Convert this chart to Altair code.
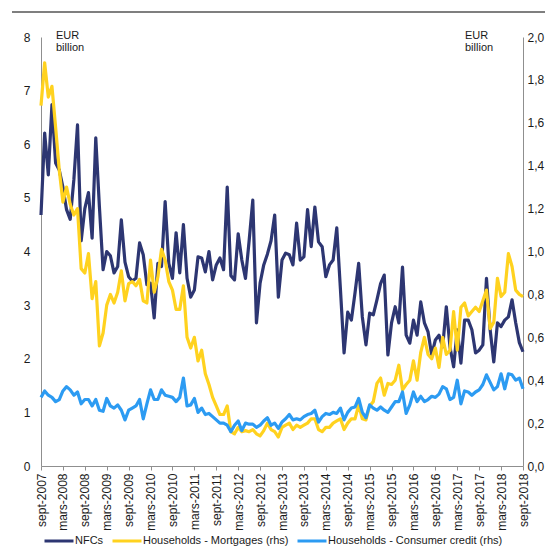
import altair as alt
import pandas as pd

month_labels = [
    "sept-2007", "mars-2008", "sept-2008", "mars-2009", "sept-2009", "mars-2010",
    "sept-2010", "mars-2011", "sept-2011", "mars-2012", "sept-2012", "mars-2013",
    "sept-2013", "mars-2014", "sept-2014", "mars-2015", "sept-2015", "mars-2016",
    "sept-2016", "mars-2017", "sept-2017", "mars-2018", "sept-2018",
]

series_names = ["NFCs", "Households - Mortgages (rhs)", "Households - Consumer credit (rhs)"]
series_colors = ["#2d3672", "#ffd21f", "#2c9bf2"]

# NFCs (lhs, EUR billion), monthly sept-2007 .. sept-2018
nfcs = [
    4.68, 6.21, 5.43, 6.74, 5.65, 5.52, 5.20, 4.78, 4.60, 5.34,
    6.36, 4.20, 4.80, 5.10, 4.25, 6.12, 4.83, 3.66, 4.00, 3.92,
    3.60, 3.72, 4.59, 3.80, 3.53, 3.45, 3.50, 4.16, 3.94, 3.38,
    3.41, 2.76, 3.78, 3.72, 4.93, 3.78, 3.50, 4.35, 3.60, 4.50,
    3.50, 3.15, 3.28, 3.90, 3.88, 3.62, 4.00, 3.47, 3.75, 3.88,
    3.66, 5.20, 3.55, 3.47, 4.33, 3.84, 3.50, 4.20, 4.96, 2.67,
    3.41, 3.75, 3.95, 4.20, 4.68, 3.15, 3.84, 3.97, 3.94, 3.75,
    4.53, 3.84, 3.90, 4.78, 4.09, 4.83, 4.18, 4.09, 3.53, 3.75,
    3.84, 4.44, 3.30, 2.11, 2.87, 2.72, 3.23, 3.78, 2.78, 2.26,
    2.85, 2.82, 3.10, 3.40, 3.56, 2.07, 2.67, 2.97, 2.67, 3.71,
    2.44, 2.29, 2.72, 2.44, 3.06, 2.67, 2.50, 2.07, 2.35, 2.44,
    2.22, 2.97, 2.22, 1.85, 2.54, 1.92, 2.72, 2.72, 2.54, 2.11,
    2.16, 2.26, 3.50, 2.54, 1.94, 2.67, 2.60, 2.72, 2.78, 3.10,
    2.67, 2.30, 2.13,
]

# Households - Mortgages (rhs, EUR billion)
mortgages = [
    1.68, 1.88, 1.72, 1.77, 1.58, 1.38, 1.23, 1.30, 1.22, 1.17,
    1.20, 0.92, 0.90, 0.99, 0.78, 0.86, 0.56, 0.62, 0.75, 0.80,
    0.76, 0.81, 0.91, 0.77, 0.85, 0.86, 0.84, 0.87, 0.77, 0.76,
    0.96, 0.81, 0.88, 1.01, 0.96, 0.86, 0.82, 0.73, 0.73, 0.84,
    0.60, 0.55, 0.60, 0.49, 0.54, 0.43, 0.38, 0.32, 0.28, 0.24,
    0.24, 0.28, 0.16, 0.15, 0.18, 0.16, 0.165, 0.16, 0.17, 0.15,
    0.14, 0.165, 0.20, 0.17, 0.16, 0.135, 0.18, 0.19, 0.20, 0.17,
    0.19, 0.18, 0.19, 0.20, 0.22, 0.22, 0.17, 0.16, 0.18, 0.18,
    0.20, 0.21, 0.22, 0.17, 0.20, 0.22, 0.22, 0.285, 0.22, 0.215,
    0.28, 0.30, 0.385, 0.41, 0.33, 0.385, 0.38, 0.40, 0.47, 0.355,
    0.38, 0.40, 0.49, 0.40, 0.53, 0.60, 0.52, 0.50, 0.55, 0.46,
    0.60, 0.52, 0.54, 0.72, 0.54, 0.74, 0.76, 0.70, 0.72, 0.74,
    0.72, 0.77, 0.82, 0.64, 0.67, 0.875, 0.79, 0.81, 0.99, 0.93,
    0.82, 0.80, 0.79,
]

# Households - Consumer credit (rhs, EUR billion)
consumer = [
    0.32, 0.35, 0.33, 0.32, 0.30, 0.31, 0.35, 0.37, 0.355, 0.33,
    0.345, 0.29, 0.31, 0.31, 0.28, 0.31, 0.26, 0.255, 0.315, 0.28,
    0.27, 0.285, 0.26, 0.215, 0.26, 0.27, 0.28, 0.31, 0.22, 0.29,
    0.355, 0.31, 0.31, 0.355, 0.33, 0.325, 0.32, 0.30, 0.32, 0.41,
    0.28, 0.285, 0.315, 0.25, 0.27, 0.24, 0.245, 0.23, 0.215, 0.20,
    0.20, 0.19, 0.16, 0.19, 0.21, 0.165, 0.20, 0.195, 0.195, 0.18,
    0.19, 0.21, 0.225, 0.19, 0.20, 0.175, 0.205, 0.22, 0.24, 0.215,
    0.22, 0.215, 0.23, 0.24, 0.245, 0.26, 0.205, 0.23, 0.245, 0.24,
    0.25, 0.245, 0.27, 0.215, 0.25, 0.27, 0.275, 0.315, 0.25, 0.225,
    0.285, 0.27, 0.26, 0.275, 0.26, 0.25, 0.275, 0.30, 0.30, 0.345,
    0.245, 0.285, 0.345, 0.30, 0.325, 0.30, 0.31, 0.325, 0.32, 0.335,
    0.37, 0.36, 0.31, 0.32, 0.40, 0.29, 0.35, 0.345, 0.33, 0.345,
    0.355, 0.38, 0.425, 0.39, 0.355, 0.37, 0.43, 0.36, 0.43, 0.425,
    0.40, 0.41, 0.36,
]

left_ticks = [0, 1, 2, 3, 4, 5, 6, 7, 8]
right_ticks = [0.0, 0.2, 0.4, 0.6, 0.8, 1.0, 1.2, 1.4, 1.6, 1.8, 2.0]
unit_lines = ["EUR", "billion"]

rows = []
for name, vals in zip(series_names, [nfcs, mortgages, consumer]):
    for i, v in enumerate(vals):
        rows.append({"month": i, "series": name, "value": v})
df = pd.DataFrame(rows)

n_months = len(nfcs) - 1
label_array = "[" + ",".join("'%s'" % s for s in month_labels) + "]"

FONT = "Liberation Sans"
TXT = "#1a1a1a"
AXIS_GREY = "#8f8f8f"

color = alt.Color(
    "series:N",
    scale=alt.Scale(domain=series_names, range=series_colors),
    legend=alt.Legend(
        title=None,
        orient="none",
        legendX=2,
        legendY=488,
        direction="horizontal",
        symbolType="stroke",
        symbolSize=841,
        symbolStrokeWidth=3,
        labelFont=FONT,
        labelFontSize=11,
        labelColor=TXT,
        labelOffset=0,
        labelLimit=0,
        columnPadding=2,
    ),
)

x_enc = alt.X(
    "month:Q",
    scale=alt.Scale(domain=[0, n_months], nice=False, zero=False),
    axis=alt.Axis(
        values=list(range(0, n_months + 1, 6)),
        labelExpr=label_array + "[round(datum.value/6)]",
        labelAngle=-90,
        labelFontSize=12,
        labelPadding=3,
        ticks=True,
        tickSize=4,
        tickColor=AXIS_GREY,
        title=None,
    ),
)

base = alt.Chart(df)

nfc_layer = base.transform_filter(alt.datum.series == series_names[0]).mark_line(
    strokeWidth=3.2, strokeJoin="round"
).encode(
    x=x_enc,
    y=alt.Y(
        "value:Q",
        scale=alt.Scale(domain=[0, 8], nice=False),
        axis=alt.Axis(values=left_ticks, format="d", orient="left", ticks=False,
                      labelPadding=11, title=None),
    ),
    color=color,
)

right_axis = alt.Axis(
    values=right_ticks,
    orient="right",
    ticks=False,
    labelPadding=4,
    labelExpr="replace(format(datum.value, '.1f'), '.', ',')",
    title=None,
)

mort_layer = base.transform_filter(alt.datum.series == series_names[1]).mark_line(
    strokeWidth=3.2, strokeJoin="round"
).encode(
    x=x_enc,
    y=alt.Y("value:Q", scale=alt.Scale(domain=[0, 2], nice=False), axis=right_axis),
    color=color,
)

cons_layer = base.transform_filter(alt.datum.series == series_names[2]).mark_line(
    strokeWidth=3.2, strokeJoin="round"
).encode(
    x=x_enc,
    y=alt.Y("value:Q", scale=alt.Scale(domain=[0, 2], nice=False), axis=right_axis),
    color=color,
)

rhs = alt.layer(mort_layer, cons_layer)

unit_df = pd.DataFrame({"t": unit_lines, "dy": [-1, 11]})
eur_left = alt.Chart(unit_df).mark_text(
    align="left", baseline="middle", font=FONT, fontSize=11, color=TXT
).encode(x=alt.value(15), y=alt.Y("dy:Q", scale=None, axis=None), text="t:N")

eur_right = alt.Chart(unit_df).mark_text(
    align="left", baseline="middle", font=FONT, fontSize=11, color=TXT
).encode(x=alt.value(424), y=alt.Y("dy:Q", scale=None, axis=None), text="t:N")

top_rule = alt.Chart(pd.DataFrame({"a": [0]})).mark_rule(color="#000000", strokeWidth=1.2).encode(
    x=alt.value(-29), x2=alt.value(504), y=alt.value(-25)
)

chart = alt.layer(nfc_layer, rhs, eur_left, eur_right, top_rule).resolve_scale(
    y="independent"
).properties(
    width=482,
    height=429,
    autosize="none",
    padding={"left": 33, "top": 29, "right": 22, "bottom": 80},
).configure_view(stroke=None).configure_axis(
    labelFont=FONT,
    labelFontSize=12,
    labelColor=TXT,
    domainColor=AXIS_GREY,
    domainWidth=1,
    grid=False,
)

chart.save("out.html", embed_options={"renderer": "svg", "actions": False})
